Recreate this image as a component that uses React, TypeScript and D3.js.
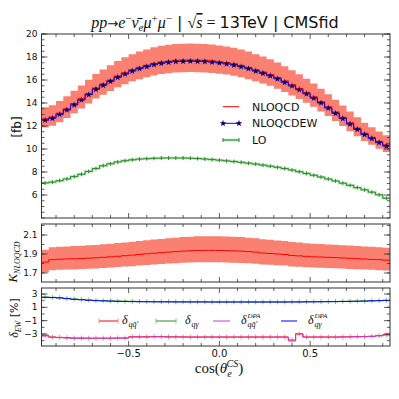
import React from "react";
import * as d3 from "d3";

const W = 399;
const H = 399;

// 48 bins in cos(theta_e^CS)
const BIN_START = -0.98;
const BIN_WIDTH = 0.04;
const N_BINS = 48;
const edges = d3.range(N_BINS + 1).map((i) => BIN_START + i * BIN_WIDTH);
const centers = d3.range(N_BINS).map((i) => BIN_START + (i + 0.5) * BIN_WIDTH);

const nloqcd = [12.62, 12.79, 13.12, 13.51, 13.95, 14.38, 14.84, 15.31, 15.66, 16.0, 16.35, 16.64, 16.9, 17.1, 17.28, 17.45, 17.57, 17.65, 17.72, 17.74, 17.75, 17.74, 17.72, 17.67, 17.6, 17.52, 17.42, 17.27, 17.1, 16.9, 16.7, 16.48, 16.22, 15.92, 15.6, 15.27, 14.92, 14.54, 14.12, 13.68, 13.22, 12.76, 12.29, 11.82, 11.37, 11.02, 10.67, 10.37];
const nloqcdew = [12.5, 12.67, 13.0, 13.39, 13.83, 14.26, 14.72, 15.19, 15.54, 15.88, 16.23, 16.52, 16.78, 16.98, 17.16, 17.33, 17.45, 17.53, 17.6, 17.62, 17.63, 17.62, 17.6, 17.55, 17.48, 17.4, 17.3, 17.15, 16.98, 16.78, 16.58, 16.36, 16.1, 15.8, 15.48, 15.15, 14.8, 14.42, 14.0, 13.56, 13.1, 12.64, 12.17, 11.7, 11.25, 10.9, 10.55, 10.25];
const nloBandHi = [13.63, 13.81, 14.17, 14.59, 15.07, 15.53, 16.03, 16.53, 16.91, 17.28, 17.66, 17.97, 18.25, 18.47, 18.66, 18.85, 18.98, 19.06, 19.14, 19.16, 19.17, 19.16, 19.14, 19.08, 19.01, 18.92, 18.81, 18.65, 18.47, 18.25, 18.04, 17.8, 17.52, 17.19, 16.85, 16.49, 16.11, 15.7, 15.25, 14.77, 14.28, 13.78, 13.27, 12.77, 12.28, 11.9, 11.52, 11.2];
const nloBandLo = [11.86, 12.02, 12.33, 12.7, 13.11, 13.52, 13.95, 14.39, 14.72, 15.04, 15.37, 15.64, 15.89, 16.07, 16.24, 16.4, 16.52, 16.59, 16.66, 16.68, 16.69, 16.68, 16.66, 16.61, 16.54, 16.47, 16.37, 16.23, 16.07, 15.89, 15.7, 15.49, 15.25, 14.96, 14.66, 14.35, 14.02, 13.67, 13.27, 12.86, 12.43, 11.99, 11.55, 11.11, 10.69, 10.36, 10.03, 9.75];
const lo = [7.05, 7.12, 7.25, 7.4, 7.6, 7.8, 8.05, 8.3, 8.55, 8.72, 8.88, 8.98, 9.06, 9.12, 9.16, 9.19, 9.21, 9.22, 9.22, 9.22, 9.2, 9.17, 9.13, 9.08, 9.03, 8.97, 8.91, 8.84, 8.77, 8.69, 8.6, 8.51, 8.41, 8.3, 8.17, 8.03, 7.88, 7.72, 7.56, 7.39, 7.22, 7.03, 6.84, 6.64, 6.45, 6.25, 6.02, 5.72];

const kFactor = [1.815, 1.84, 1.845, 1.848, 1.85, 1.853, 1.856, 1.86, 1.865, 1.87, 1.876, 1.882, 1.888, 1.895, 1.902, 1.908, 1.914, 1.92, 1.925, 1.93, 1.934, 1.937, 1.938, 1.938, 1.937, 1.935, 1.933, 1.93, 1.925, 1.92, 1.91, 1.905, 1.9, 1.895, 1.885, 1.88, 1.875, 1.87, 1.868, 1.865, 1.862, 1.858, 1.855, 1.85, 1.847, 1.843, 1.84, 1.835];
const kBandHi = [1.945, 1.97, 1.976, 1.98, 1.983, 1.987, 1.991, 1.996, 2.002, 2.008, 2.015, 2.022, 2.029, 2.037, 2.045, 2.052, 2.059, 2.066, 2.072, 2.078, 2.083, 2.086, 2.088, 2.088, 2.087, 2.085, 2.082, 2.078, 2.072, 2.066, 2.055, 2.049, 2.043, 2.037, 2.026, 2.02, 2.014, 2.008, 2.005, 2.001, 1.998, 1.993, 1.99, 1.984, 1.98, 1.976, 1.972, 1.967];
const kBandLo = [1.705, 1.728, 1.733, 1.736, 1.738, 1.741, 1.744, 1.748, 1.752, 1.757, 1.762, 1.767, 1.772, 1.778, 1.784, 1.789, 1.794, 1.799, 1.803, 1.807, 1.81, 1.812, 1.813, 1.813, 1.812, 1.81, 1.808, 1.806, 1.802, 1.798, 1.79, 1.786, 1.782, 1.778, 1.769, 1.765, 1.761, 1.757, 1.755, 1.752, 1.75, 1.746, 1.743, 1.739, 1.736, 1.733, 1.73, 1.726];

const dQQ = [-3.2, -3.45, -3.5, -3.55, -3.6, -3.6, -3.62, -3.62, -3.62, -3.62, -3.6, -3.6, -3.42, -3.42, -3.42, -3.4, -3.4, -3.42, -3.42, -3.44, -3.45, -3.45, -3.45, -3.45, -3.45, -3.45, -3.45, -3.45, -3.45, -3.45, -3.45, -3.45, -3.45, -3.45, -3.9, -3.0, -3.45, -3.45, -3.45, -3.45, -3.45, -3.43, -3.42, -3.4, -3.38, -3.34, -3.25, -3.1];
const dQG = [2.55, 2.5, 2.45, 2.35, 2.25, 2.18, 2.1, 2.04, 2.0, 1.97, 1.94, 1.92, 1.9, 1.88, 1.87, 1.86, 1.85, 1.85, 1.84, 1.84, 1.83, 1.83, 1.83, 1.82, 1.82, 1.82, 1.82, 1.82, 1.82, 1.82, 1.82, 1.82, 1.82, 1.82, 1.83, 1.83, 1.84, 1.85, 1.86, 1.87, 1.88, 1.9, 1.92, 1.94, 1.96, 1.99, 2.02, 2.06];
const dQQdpa = [-3.3, -3.5, -3.55, -3.6, -3.65, -3.65, -3.65, -3.65, -3.65, -3.65, -3.62, -3.62, -3.45, -3.45, -3.45, -3.42, -3.42, -3.45, -3.45, -3.46, -3.47, -3.47, -3.47, -3.47, -3.47, -3.47, -3.47, -3.47, -3.47, -3.47, -3.47, -3.47, -3.47, -3.47, -4.05, -2.95, -3.47, -3.47, -3.47, -3.47, -3.47, -3.45, -3.44, -3.42, -3.4, -3.36, -3.28, -3.15];
const dQGdpa = [2.5, 2.46, 2.4, 2.3, 2.2, 2.13, 2.06, 2.0, 1.96, 1.93, 1.9, 1.88, 1.86, 1.84, 1.83, 1.82, 1.81, 1.81, 1.8, 1.8, 1.8, 1.8, 1.8, 1.79, 1.79, 1.79, 1.79, 1.79, 1.79, 1.79, 1.79, 1.79, 1.79, 1.79, 1.8, 1.8, 1.81, 1.82, 1.83, 1.84, 1.85, 1.87, 1.89, 1.91, 1.93, 1.96, 1.99, 2.03];

const topTicks = [6, 8, 10, 12, 14, 16, 18, 20];
const midTicks = [1.7, 1.9, 2.1];
const botTicks = [-3, -1, 1, 3];
const xTicks = [-0.5, 0, 0.5];
const xTickLabels = ["\u22120.5", "0.0", "0.5"];

const SANS = "DejaVu Sans";
const SERIF = "Liberation Serif";

const x = d3.scaleLinear().domain([-0.98, 0.94]).range([41.5, 390]);
const yTop = d3.scaleLinear().domain([4, 20]).range([218, 34]);
const yMid = d3.scaleLinear().domain([1.605, 2.216]).range([282, 224]);
const yBot = d3.scaleLinear().domain([-4.8, 3.9]).range([346, 288]);

const xMinor = d3.range(-9, 10).map((i) => i / 10);

function stepPath(vals: number[], y: d3.ScaleLinear<number, number>) {
  const pts = vals.flatMap((v, i) => [[edges[i], v], [edges[i + 1], v]] as [number, number][]);
  return d3.line<[number, number]>().x((d) => x(d[0])).y((d) => y(d[1]))(pts) || "";
}

function bandPath(loV: number[], hiV: number[], y: d3.ScaleLinear<number, number>) {
  const pts = loV.flatMap((v, i) => [[edges[i], v, hiV[i]], [edges[i + 1], v, hiV[i]]]);
  return d3.area<number[]>().x((d) => x(d[0])).y0((d) => y(d[1])).y1((d) => y(d[2]))(pts) || "";
}

function ErrTicks({ vals, y, color, len = 2.5 }: any) {
  return (
    <g stroke={color} strokeWidth={1}>
      {vals.map((v: number, i: number) => (
        <line key={i} x1={x(centers[i])} x2={x(centers[i])} y1={y(v) - len} y2={y(v) + len} />
      ))}
    </g>
  );
}

function Frame({ y, major, minor, labels }: any) {
  const [x0, x1] = x.range();
  const [yb, yt] = y.range();
  return (
    <g>
      <g stroke="#333" strokeWidth={0.8}>
        {xMinor.map((t: number) => {
          const big = xTicks.includes(t);
          const l = big ? 5 : 3;
          return (
            <g key={t}>
              <line x1={x(t)} x2={x(t)} y1={yb} y2={yb - l} />
              <line x1={x(t)} x2={x(t)} y1={yt} y2={yt + l} />
            </g>
          );
        })}
        {minor.map((t: number) => (
          <g key={"m" + t}>
            <line x1={x0} x2={x0 + 3} y1={y(t)} y2={y(t)} />
            <line x1={x1} x2={x1 - 3} y1={y(t)} y2={y(t)} />
          </g>
        ))}
        {major.map((t: number) => (
          <g key={"M" + t}>
            <line x1={x0} x2={x0 + 6} y1={y(t)} y2={y(t)} />
            <line x1={x1} x2={x1 - 6} y1={y(t)} y2={y(t)} />
          </g>
        ))}
      </g>
      <rect x={x0} y={yt} width={x1 - x0} height={yb - yt} fill="none" stroke="#333" strokeWidth={1} />
      <g fontFamily={SANS} fontSize={9} fill="#111" textAnchor="end">
        {major.map((t: number, i: number) => (
          <text key={t} x={x0 - 4} y={y(t)} dy="0.35em">
            {labels[i]}
          </text>
        ))}
      </g>
    </g>
  );
}

// delta symbol with subscript and optional superscript, placed as separate texts
function Delta({ x0, y0, subText, supText }: any) {
  return (
    <g fontFamily={SERIF} fontStyle="italic" fill="#111">
      <text x={x0} y={y0 + 3} fontSize={12}>{"\u03B4"}</text>
      <text x={x0 + 6.5} y={y0 + 6} fontSize={8}>{subText}</text>
      {supText && <text x={x0 + 6.5} y={y0 - 3} fontSize={7}>{supText}</text>}
    </g>
  );
}

export default function App() {
  const topMinor = d3.range(8, 41).map((i) => i / 2);
  const midMinor = [1.7, 1.8, 1.9, 2.0, 2.1, 2.2];
  const botMinor = d3.range(-4, 4).map((i) => i);

  const legY = 321;

  return (
    <svg width={W} height={H} style={{ position: "absolute", left: 0, top: 0, background: "#fff" }}>
      {/* title */}
      <text x={215} y={28} textAnchor="middle" fontSize={16} fill="#111" style={{ whiteSpace: "pre" }}>
        <tspan fontFamily={SERIF} fontStyle="italic">pp</tspan>
        <tspan fontFamily={SANS} fontSize={13}>{"\u2192"}</tspan>
        <tspan fontFamily={SERIF} fontStyle="italic">e</tspan>
        <tspan fontFamily={SERIF} fontSize={11} dy={-6}>{"\u2212"}</tspan>
        <tspan fontFamily={SERIF} fontStyle="italic" dy={6}>{"\u03BD\u0304"}</tspan>
        <tspan fontFamily={SERIF} fontStyle="italic" fontSize={11} dy={3}>e</tspan>
        <tspan fontFamily={SERIF} fontStyle="italic" dy={-3}>{"\u03BC"}</tspan>
        <tspan fontFamily={SERIF} fontSize={11} dy={-6}>+</tspan>
        <tspan fontFamily={SERIF} fontStyle="italic" dy={6}>{"\u03BC"}</tspan>
        <tspan fontFamily={SERIF} fontSize={11} dy={-6}>{"\u2212"}</tspan>
        <tspan fontFamily={SANS} dy={6}>{" | "}</tspan>
        <tspan fontFamily={SERIF}>{"\u221A"}</tspan>
        <tspan fontFamily={SERIF} fontStyle="italic" textDecoration="overline">s</tspan>
        <tspan fontFamily={SERIF}>{" = "}</tspan>
        <tspan fontFamily={SANS}>{"13TeV | CMSfid"}</tspan>
      </text>

      {/* top panel */}
      <path d={bandPath(nloBandLo, nloBandHi, yTop)} fill="#fa8072" />
      <path d={stepPath(lo, yTop)} fill="none" stroke="#b5e2b5" strokeWidth={2.5} />
      <path d={stepPath(lo, yTop)} fill="none" stroke="#2a8a2a" strokeWidth={1} />
      <ErrTicks vals={lo} y={yTop} color="#2a8a2a" len={2} />
      <path d={stepPath(nloqcd, yTop)} fill="none" stroke="#ff0000" strokeWidth={1} />
      <path d={stepPath(nloqcdew, yTop)} fill="none" stroke="#0000ff" strokeWidth={1} />
      <g fill="#000066">
        {nloqcdew.map((v, i) => (
          <path key={i} d={d3.symbol(d3.symbolStar, 14)() || ""} transform={`translate(${x(centers[i])},${yTop(v)})`} />
        ))}
      </g>
      <Frame y={yTop} major={topTicks} minor={topMinor} labels={topTicks.map(String)} />

      {/* top legend */}
      <g fontFamily={SANS} fontSize={11} fill="#111">
        <line x1={223} x2={239} y1={106.7} y2={106.7} stroke="#ff0000" />
        <text x={252} y={106.7} dy="0.35em">NLOQCD</text>
        <line x1={223} x2={239} y1={123.3} y2={123.3} stroke="#0000ff" />
        {[223, 239].map((px) => (
          <path key={px} d={d3.symbol(d3.symbolStar, 14)() || ""} transform={`translate(${px},123.3)`} fill="#000066" />
        ))}
        <text x={252} y={123.3} dy="0.35em">NLOQCDEW</text>
        <line x1={223} x2={239} y1={140} y2={140} stroke="#b5e2b5" strokeWidth={2.5} />
        <line x1={223} x2={239} y1={140} y2={140} stroke="#2a8a2a" />
        <line x1={223} x2={223} y1={138} y2={142} stroke="#2a8a2a" />
        <line x1={239} x2={239} y1={138} y2={142} stroke="#2a8a2a" />
        <text x={252} y={140} dy="0.35em">LO</text>
      </g>
      <text transform="translate(21,127) rotate(-90)" textAnchor="middle" fontFamily={SANS} fontSize={12} fill="#111">[fb]</text>

      {/* middle panel */}
      <path d={bandPath(kBandLo, kBandHi, yMid)} fill="#fa8072" />
      <path d={stepPath(kFactor, yMid)} fill="none" stroke="#ff0000" strokeWidth={1} />
      <Frame y={yMid} major={midTicks} minor={midMinor} labels={["1.7", "1.9", "2.1"]} />
      <text transform="translate(17,262) rotate(-90)" textAnchor="middle" fontFamily={SERIF} fontStyle="italic" fontSize={13} fill="#111">
        <tspan>K</tspan>
        <tspan fontSize={8} dy={3}>NLOQCD</tspan>
      </text>

      {/* bottom panel */}
      <ErrTicks vals={dQG} y={yBot} color="#7fc47f" len={2.5} />
      <path d={stepPath(dQG, yBot)} fill="none" stroke="#2a8a2a" strokeWidth={1} />
      <path d={stepPath(dQGdpa, yBot)} fill="none" stroke="#0000ff" strokeWidth={1} />
      <ErrTicks vals={dQQ} y={yBot} color="#ff8c8c" len={2.5} />
      <path d={stepPath(dQQ, yBot)} fill="none" stroke="#ff0000" strokeWidth={1} />
      <path d={stepPath(dQQdpa, yBot)} fill="none" stroke="#c040d0" strokeWidth={1} />
      <Frame y={yBot} major={botTicks} minor={botMinor} labels={["\u22123", "\u22121", "1", "3"]} />

      {/* bottom legend */}
      <g>
        <line x1={99} x2={118} y1={legY} y2={legY} stroke="#ff0000" />
        <line x1={99} x2={99} y1={legY - 2.5} y2={legY + 2.5} stroke="#ff8c8c" />
        <line x1={118} x2={118} y1={legY - 2.5} y2={legY + 2.5} stroke="#ff8c8c" />
        <Delta x0={122} y0={legY} subText={"qq\u0304\u2032"} />
        <line x1={156} x2={176} y1={legY} y2={legY} stroke="#2a8a2a" />
        <line x1={156} x2={156} y1={legY - 2.5} y2={legY + 2.5} stroke="#7fc47f" />
        <line x1={176} x2={176} y1={legY - 2.5} y2={legY + 2.5} stroke="#7fc47f" />
        <Delta x0={185} y0={legY} subText={"q\u03B3"} />
        <line x1={213} x2={230} y1={legY} y2={legY} stroke="#c040d0" />
        <Delta x0={241} y0={legY} subText={"qq\u0304\u2032"} supText="DPA" />
        <line x1={281} x2={297} y1={legY} y2={legY} stroke="#0000ff" />
        <Delta x0={308} y0={legY} subText={"q\u03B3"} supText="DPA" />
      </g>
      <text transform="translate(18,318) rotate(-90)" textAnchor="middle" fill="#111" fontSize={12}>
        <tspan fontFamily={SERIF} fontStyle="italic">{"\u03B4"}</tspan>
        <tspan fontFamily={SERIF} fontStyle="italic" fontSize={8} dy={3}>EW</tspan>
        <tspan fontFamily={SANS} fontSize={11} dy={-3}>{" [%]"}</tspan>
      </text>

      {/* x axis labels */}
      <g fontFamily={SANS} fontSize={10} fill="#111" textAnchor="middle">
        {xTicks.map((t, i) => (
          <text key={t} x={x(t)} y={357}>{xTickLabels[i]}</text>
        ))}
      </g>
      <text x={219} y={373} textAnchor="middle" fontFamily={SERIF} fontSize={15} fill="#111">
        <tspan>cos(</tspan>
        <tspan fontStyle="italic">{"\u03B8"}</tspan>
        <tspan fontStyle="italic" fontSize={10} dy={4}>e</tspan>
        <tspan fontStyle="italic" fontSize={10} dx={-5} dy={-10}>CS</tspan>
        <tspan dy={6}>)</tspan>
      </text>
    </svg>
  );
}
